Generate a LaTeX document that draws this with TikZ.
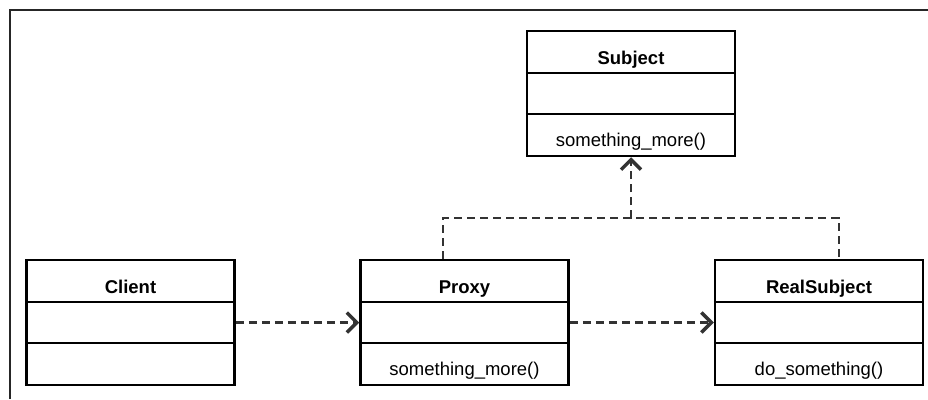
\documentclass[tikz,border=0pt]{standalone}
\usepackage{fontspec}
\setmainfont{Liberation Sans}
\usetikzlibrary{arrows.meta}

\tikzset{
  classbox/.style={draw=black, line width=2.5pt, minimum width=208pt, minimum height=125pt, inner sep=0pt},
  dep/.style={draw=black!80, line width=2.5pt, dash pattern=on 8pt off 5pt},
  deparrow/.style={dep, -{Straight Barb[length=10pt,width=20pt,line width=3.5pt]}},
}

\def\umlclass#1#2#3#4{%
  \draw (#2) node[classbox] (#1) {};
  \draw[line width=2.5pt] ([yshift=20.5pt]#1.west) -- ([yshift=20.5pt]#1.east);
  \draw[line width=2.5pt] ([yshift=-20.5pt]#1.west) -- ([yshift=-20.5pt]#1.east);
  \draw ([yshift=29.5pt]#1.center) node[anchor=base] (#1-title) {\bfseries #3};
  \draw ([yshift=-53pt]#1.center) node[anchor=base] (#1-op) {#4};
}

\begin{document}
\begin{tikzpicture}[x=1pt,y=-1pt,font=\fontsize{18.5}{22}\selectfont]
\useasboundingbox (0,0) rectangle (928,399);
\draw[line width=2.5pt, black!85] (10,399) -- (10,10) -- (928,10);
\umlclass{subject}{631,93.5}{Subject}{something\_more()}
\umlclass{client}{130.5,322.5}{Client}{}
\umlclass{proxy}{464.5,322.5}{Proxy}{something\_more()}
\umlclass{real}{819,322.5}{RealSubject}{do\_something()}
\draw[deparrow] (client.east) -- (proxy.west);
\draw[deparrow] (proxy.east) -- (real.west);
\coordinate (joint) at (631,218);
\draw[dep] ([xshift=-21.5pt]proxy.north) |- (joint) -| ([xshift=20pt]real.north);
\draw[deparrow] (joint) -- (subject.south);
\end{tikzpicture}
\end{document}
